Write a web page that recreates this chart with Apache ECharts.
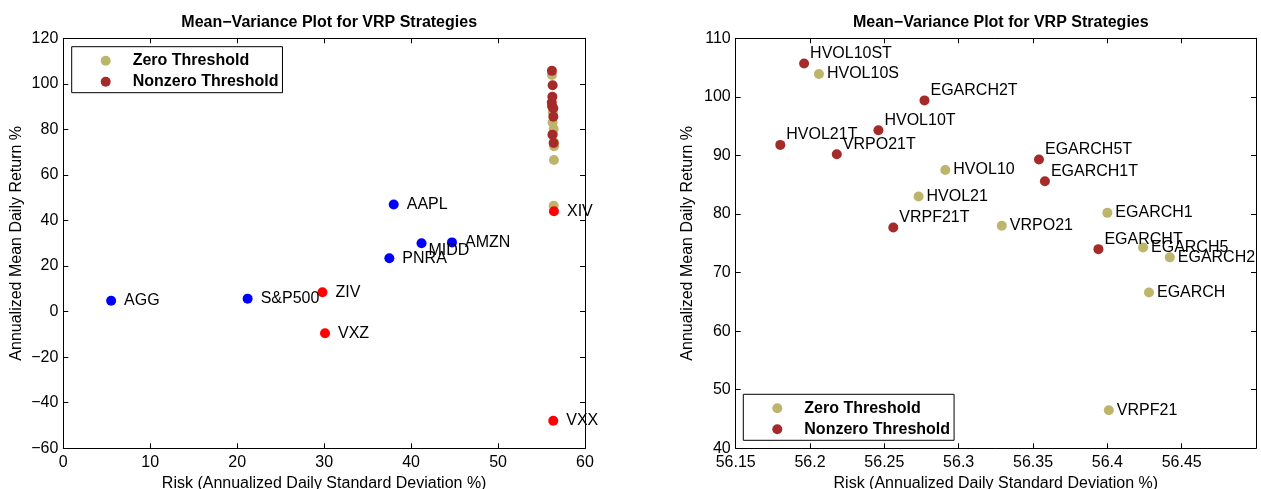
<!DOCTYPE html>
<html><head><meta charset="utf-8">
<script src="https://cdn.jsdelivr.net/npm/echarts@6/dist/echarts.min.js"></script>
<style>html,body{margin:0;padding:0;background:#fff}#c{width:1261px;height:489px}</style>
</head><body><div id="c"></div>
<script>
// ---- data ----
const zeroNames = ['HVOL10S','HVOL10','HVOL21','VRPO21','EGARCH1','EGARCH5','EGARCH2','EGARCH','VRPF21'];
const zeroRisk  = [56.206,56.291,56.273,56.329,56.400,56.424,56.442,56.428,56.401];
const zeroRet   = [103.9,87.5,83.0,78.0,80.2,74.3,72.6,66.6,46.5];
const nonzeroNames = ['HVOL10ST','EGARCH2T','HVOL10T','HVOL21T','VRPO21T','EGARCH5T','EGARCH1T','VRPF21T','EGARCHT'];
const nonzeroRisk  = [56.196,56.277,56.246,56.180,56.218,56.354,56.358,56.256,56.394];
const nonzeroRet   = [105.7,99.4,94.3,91.8,90.2,89.3,85.6,77.7,74.0];
const stockNames = ['AGG','S&P500','PNRA','AAPL','MIDD','AMZN'];
const stockRisk  = [5.5,21.2,37.5,38.0,41.2,44.7];
const stockRet   = [4.8,5.7,23.4,47.0,30.0,30.4];
const volNames = ['ZIV','VXZ','XIV','VXX'];
const volRisk  = [29.8,30.1,56.43,56.35];
const volRet   = [8.5,-9.5,44.1,-47.9];
const titleText = 'Mean\u2212Variance Plot for VRP Strategies';
const xName = 'Risk (Annualized Daily Standard Deviation %)';
const yName = 'Annualized Mean Daily Return %';

// ---- styles ----
const FONT = "'Liberation Sans', Arial, Helvetica, sans-serif";
const GOLD = '#bdb56b', DRED = '#a52a2a';
const labelOffsets = { MIDD: [-3, 7] };

function pts(names, xs, ys, labelFn) {
  return names.map((n, i) => {
    const d = { name: n, value: [xs[i], ys[i]] };
    if (labelFn) { const l = labelFn(n); if (l) d.label = l; }
    return d;
  });
}

const chart = echarts.init(document.getElementById('c'), null, { renderer: 'canvas' });

const grids = [
  { left: 63.3, top: 38.3, width: 521.7, height: 410, outerBoundsMode: 'none', containLabel: false },
  { left: 735.7, top: 38.3, width: 520.3, height: 410, outerBoundsMode: 'none', containLabel: false }
];
const axLine = { show: true, onZero: false, lineStyle: { color: '#000', width: 1 } };
const tick = { show: true, inside: true, length: 5, lineStyle: { color: '#000' } };
const fmt = v => String(parseFloat(Number(v).toFixed(2))).replace('-', '\u2212');
const lab = { color: '#000', fontSize: 16, fontFamily: FONT, formatter: fmt };

function xAx(gi, min, max, interval, extra) {
  return [
    Object.assign({ gridIndex: gi, type: 'value', min, max, interval, position: 'bottom',
      axisLine: axLine, axisTick: tick, splitLine: { show: false },
      axisLabel: Object.assign({ margin: 6 }, lab),
      name: xName, nameLocation: 'middle', nameGap: 24,
      nameTextStyle: { color: '#000', fontSize: 16, fontFamily: FONT } }, extra || {}),
    { gridIndex: gi, type: 'value', min, max, interval, position: 'top',
      axisLine: axLine, axisTick: tick, splitLine: { show: false }, axisLabel: { show: false } }
  ];
}
function yAx(gi, min, max, interval, gap) {
  return [
    { gridIndex: gi, type: 'value', min, max, interval, position: 'left',
      axisLine: axLine, axisTick: tick, splitLine: { show: false },
      axisLabel: Object.assign({ margin: 5 }, lab),
      name: yName, nameLocation: 'middle', nameGap: gap,
      nameTextStyle: { color: '#000', fontSize: 16, fontFamily: FONT } },
    { gridIndex: gi, type: 'value', min, max, interval, position: 'right',
      axisLine: axLine, axisTick: tick, splitLine: { show: false }, axisLabel: { show: false } }
  ];
}

const xAxes = [...xAx(0, 0, 60, 10), ...xAx(1, 56.15, 56.5, 0.05, {
  axisLabel: Object.assign({ margin: 6, showMaxLabel: false }, lab) })];
const yAxes = [...yAx(0, -60, 120, 20, 39), ...yAx(1, 40, 110, 10, 40)];

const legendBase = {
  orient: 'vertical', data: ['Zero Threshold', 'Nonzero Threshold'],
  borderColor: '#000', borderWidth: 1, backgroundColor: '#fff',
  padding: [6, 4, 3, 29], itemWidth: 44, itemHeight: 10, itemGap: 5, icon: 'circle',
  textStyle: { fontWeight: 'bold', fontSize: 16, color: '#000', fontFamily: FONT },
  selectedMode: false
};

const leftLabel = { show: true, position: 'right', distance: 8, color: '#000', fontSize: 16, fontFamily: FONT, formatter: '{b}' };
const zeroLabel = { show: true, position: 'right', distance: 3, color: '#000', fontSize: 16, fontFamily: FONT, formatter: '{b}' };
const nzLabel = { show: true, position: 'right', distance: 1, offset: [0, -10], color: '#000', fontSize: 16, fontFamily: FONT, formatter: '{b}' };

function sc(name, xi, yi, data, color, label) {
  return { name, type: 'scatter', xAxisIndex: xi, yAxisIndex: yi, data, symbol: 'circle', symbolSize: 10,
    itemStyle: { color, opacity: 1 }, label: label || { show: false }, emphasis: { disabled: true }, silent: true };
}

const offsetFn = n => labelOffsets[n] ? { offset: labelOffsets[n], distance: 5 } : null;

chart.setOption({
  animation: false,
  backgroundColor: '#fff',
  textStyle: { fontFamily: FONT },
  title: [
    { text: titleText, left: 324.2, top: 10, textAlign: 'center',
      textStyle: { fontSize: 16, fontWeight: 'bold', color: '#000', fontFamily: FONT } },
    { text: titleText, left: 995.8, top: 10, textAlign: 'center',
      textStyle: { fontSize: 16, fontWeight: 'bold', color: '#000', fontFamily: FONT } }
  ],
  legend: [
    Object.assign({ left: 71.7, top: 46.7 }, legendBase),
    Object.assign({ left: 743.3, top: 394.3 }, legendBase)
  ],
  grid: grids,
  xAxis: xAxes,
  yAxis: yAxes,
  series: [
    sc('Zero Threshold', 0, 0, pts(zeroNames, zeroRisk, zeroRet), GOLD),
    sc('Nonzero Threshold', 0, 0, pts(nonzeroNames, nonzeroRisk, nonzeroRet), DRED),
    sc('Stocks', 0, 0, pts(stockNames, stockRisk, stockRet, offsetFn), '#0000ff', leftLabel),
    sc('VIX ETNs', 0, 0, pts(volNames, volRisk, volRet), '#ff0000', leftLabel),
    sc('Zero Threshold', 2, 2, pts(zeroNames, zeroRisk, zeroRet), GOLD, zeroLabel),
    sc('Nonzero Threshold', 2, 2, pts(nonzeroNames, nonzeroRisk, nonzeroRet), DRED, nzLabel)
  ]
});
</script></body></html>
